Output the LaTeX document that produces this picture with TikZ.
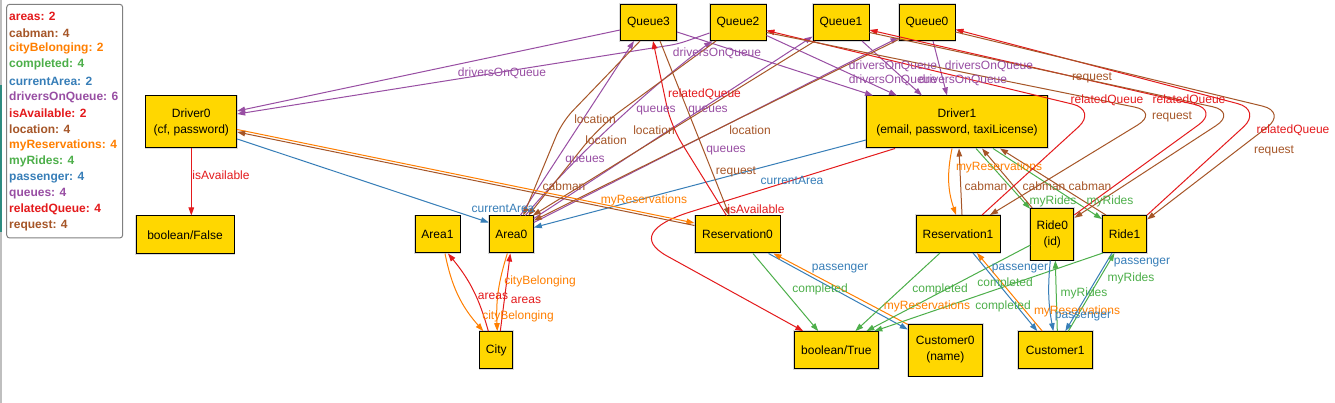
\documentclass[tikz,border=0pt]{standalone}
\usepackage{fontspec}
\setmainfont{Liberation Sans}
\usetikzlibrary{arrows.meta}
\definecolor{cred}{HTML}{E41A1C}
\definecolor{cblue}{HTML}{377EB8}
\definecolor{cgreen}{HTML}{4DAF4A}
\definecolor{cpurple}{HTML}{984EA3}
\definecolor{corange}{HTML}{FF7F00}
\definecolor{cbrown}{HTML}{A65628}
\definecolor{gold}{HTML}{FFD700}
\definecolor{cteal}{HTML}{2E8B80}
\tikzset{
  obj/.style={draw=black, line width=1pt, fill=gold, inner sep=0pt, align=center,
    font=\fontsize{12}{16}\selectfont, preaction={draw=black!15, line width=2.6pt}},
  edgebase/.style={line width=1pt, -{Triangle[length=8pt,width=5.5pt]}},
  ered/.style={edgebase, draw=cred},
  eblue/.style={edgebase, draw=cblue},
  egreen/.style={edgebase, draw=cgreen},
  epurple/.style={edgebase, draw=cpurple},
  eorange/.style={edgebase, draw=corange},
  ebrown/.style={edgebase, draw=cbrown},
  labbase/.style={font=\fontsize{12}{14}\selectfont, inner sep=0pt},
  lred/.style={labbase, text=cred},
  lblue/.style={labbase, text=cblue},
  lgreen/.style={labbase, text=cgreen},
  lpurple/.style={labbase, text=cpurple},
  lorange/.style={labbase, text=corange},
  lbrown/.style={labbase, text=cbrown},
  legitem/.style={font=\bfseries\fontsize{12}{14}\selectfont, inner sep=0pt, anchor=west},
}
\begin{document}
\begin{tikzpicture}[x=1pt,y=-1pt]
\useasboundingbox (0,0) rectangle (1335,403);
\fill[white] (0,0) rectangle (1335,403);
\draw[black!25, line width=1.5pt] (0.75,0) -- (0.75,403);
\draw[cteal, line width=1.5pt] (0.75,85) -- (0.75,232);

% legend
\draw[black!50, line width=1pt, rounded corners=3pt] (6.7,4.3) rectangle (122.7,238);
\node[legitem, text=cred]    (lg1)  at (9,16.7)  {areas: 2};
\node[legitem, text=cbrown]  (lg2)  at (9,32.8)  {cabman: 4};
\node[legitem, text=corange] (lg3)  at (9,48.9)  {cityBelonging: 2};
\node[legitem, text=cgreen]  (lg4)  at (9,64.9)  {completed: 4};
\node[legitem, text=cblue]   (lg5)  at (9,81.0)  {currentArea: 2};
\node[legitem, text=cpurple] (lg6)  at (9,97.1)  {driversOnQueue: 6};
\node[legitem, text=cred]    (lg7)  at (9,113.2) {isAvailable: 2};
\node[legitem, text=cbrown]  (lg8)  at (9,129.3) {location: 4};
\node[legitem, text=corange] (lg9)  at (9,145.3) {myReservations: 4};
\node[legitem, text=cgreen]  (lg10) at (9,161.4) {myRides: 4};
\node[legitem, text=cblue]   (lg11) at (9,177.5) {passenger: 4};
\node[legitem, text=cpurple] (lg12) at (9,193.6) {queues: 4};
\node[legitem, text=cred]    (lg13) at (9,209.7) {relatedQueue: 4};
\node[legitem, text=cbrown]  (lg14) at (9,225.7) {request: 4};

% nodes
\node[obj, minimum width=56pt, minimum height=36pt] (q3) at (648.5,22.5) {Queue3};
\node[obj, minimum width=56pt, minimum height=36pt] (q2) at (738,22.5) {Queue2};
\node[obj, minimum width=56pt, minimum height=36pt] (q1) at (841,22.5) {Queue1};
\node[obj, minimum width=56pt, minimum height=36pt] (q0) at (927,22.5) {Queue0};
\node[obj, minimum width=90.7pt, minimum height=52pt] (d0) at (191.3,122) {Driver0\\(cf, password)};
\node[obj, minimum width=181pt, minimum height=52pt] (d1) at (957,122) {Driver1\\(email, password, taxiLicense)};
\node[obj, minimum width=98pt, minimum height=38pt] (bf) at (185,235) {boolean/False};
\node[obj, minimum width=45pt, minimum height=37pt] (a1) at (437.5,234.5) {Area1};
\node[obj, minimum width=44pt, minimum height=37pt] (a0) at (511.3,234.5) {Area0};
\node[obj, minimum width=85pt, minimum height=37pt] (r0) at (737.5,234.5) {Reservation0};
\node[obj, minimum width=84pt, minimum height=37pt] (r1) at (958,234) {Reservation1};
\node[obj, minimum width=43.3pt, minimum height=51.7pt] (ride0) at (1052.3,234.2) {Ride0\\(id)};
\node[obj, minimum width=44.3pt, minimum height=37pt] (ride1) at (1124.5,234) {Ride1};
\node[obj, minimum width=32.7pt, minimum height=36.7pt] (city) at (496.3,350) {City};
\node[obj, minimum width=84pt, minimum height=36.7pt] (bt) at (836.3,350) {boolean/True};
\node[obj, minimum width=74pt, minimum height=52pt] (c0) at (945.3,350) {Customer0\\(name)};
\node[obj, minimum width=74pt, minimum height=36.7pt] (c1) at (1055.3,350) {Customer1};

% driversOnQueue
\draw[epurple] ([yshift=-7.5pt]q3.west) -- ([yshift=11pt]d0.east);
\draw[epurple, rounded corners=8pt] ([yshift=-10.5pt]q2.west) -- (678,44) -- ([yshift=8pt]d0.east);
\draw[epurple] ([yshift=-9.5pt]q3.east) -- ([xshift=-84pt]d1.north);
\draw[epurple] ([yshift=-13pt]q2.east) -- ([xshift=-60pt]d1.north);
\draw[epurple] ([xshift=21pt]q1.south) -- ([xshift=-35pt]d1.north);
\draw[epurple] ([xshift=6pt]q0.south) -- ([xshift=-10pt]d1.north);

% queues
\draw[epurple] ([xshift=9pt]a0.north) -- ([xshift=-14.5pt]q3.south);
\draw[epurple] ([xshift=14pt]a0.north) .. controls (585,145) and (660,80) .. ([xshift=-26pt]q2.south);
\draw[epurple] ([yshift=-3pt]a0.north east) -- ([yshift=-14pt]q1.west);
\draw[epurple] ([yshift=-7pt]a0.north east) -- ([yshift=-15pt]q0.west);

% location
\draw[ebrown, rounded corners=15pt] ([xshift=-8.5pt]q3.south) -- (562,122) -- ([xshift=12pt]a0.north);
\draw[ebrown, rounded corners=25pt] ([xshift=-22pt]q2.south) -- (600,126) -- ([xshift=17pt]a0.north);
\draw[ebrown] ([xshift=-26pt]q1.south) -- ([xshift=-1pt]a0.north east);
\draw[ebrown] ([yshift=-17pt]q0.west) -- ([yshift=-5pt]a0.north east);

% currentArea
\draw[eblue] ([yshift=-17pt]d0.east) -- ([yshift=-7pt]a0.north west);
\draw[eblue] ([yshift=-18pt]d1.west) -- ([yshift=-12pt]a0.north east);

% isAvailable
\draw[ered] (d0.south) -- ([xshift=6.3pt]bf.north);
\draw[ered] ([xshift=-62pt]d1.south) -- (690,212) .. controls (650,224.5) and (639,240.5) .. (667,256) -- ([xshift=-33pt]bt.north);

% Driver0 <-> Reservation0
\draw[eorange] ([yshift=-7.5pt]d0.east) -- ([yshift=-7.5pt]r0.north west);
\draw[ebrown] ([yshift=-10pt]r0.north west) -- ([yshift=-10pt]d0.east);

% Reservation0 <-> Queue3
\draw[ered, rounded corners=20pt] ([xshift=-11pt]r0.north) -- (671,126) -- ([xshift=4.5pt]q3.south);
\draw[ebrown] ([xshift=11.5pt]q3.south) -- ([xshift=-8pt]r0.north);

% City
\draw[eorange] ([xshift=7.5pt]a1.south) to[bend right=15] ([xshift=-13pt]city.north);
\draw[ered] ([xshift=-8pt]city.north) to[bend right=12] ([xshift=10.5pt]a1.south);
\draw[eorange] ([xshift=-4pt]a0.south) to[bend right=10] ([xshift=1pt]city.north);
\draw[ered] ([xshift=4pt]city.north) -- ([xshift=-1pt]a0.south);

% Reservation0 <-> Customer0
\draw[eblue] ([xshift=31pt]r0.south) -- ([yshift=-6pt]c0.north west);
\draw[eorange] ([yshift=-1pt]c0.north west) -- ([xshift=36pt]r0.south);

% completed
\draw[egreen] ([xshift=15.5pt]r0.south) -- ([xshift=-18pt]bt.north);
\draw[egreen] ([xshift=-18pt]r1.south) -- ([xshift=19pt]bt.north);
\draw[egreen] ([yshift=-11pt]ride0.west) -- ([xshift=30pt]bt.north);
\draw[egreen] ([xshift=1pt]ride1.south west) -- ([xshift=38pt]bt.north);

% Reservation1 <-> Customer1
\draw[eblue] ([xshift=15pt]r1.south) -- ([xshift=-18pt]c1.north);
\draw[eorange] ([xshift=-13pt]c1.north) -- ([xshift=19pt]r1.south);

% Ride0 <-> Customer1
\draw[eblue] ([xshift=-2pt]ride0.south) to[bend right=8] ([xshift=-2pt]c1.north);
\draw[egreen] ([xshift=2pt]c1.north) -- ([xshift=3pt]ride0.south);

% Ride1 <-> Customer1
\draw[eblue] ([xshift=-12.5pt]ride1.south) -- ([xshift=10pt]c1.north);
\draw[egreen] ([xshift=13pt]c1.north) -- ([xshift=-10pt]ride1.south);

% Driver1 <-> Reservation1
\draw[eorange] ([xshift=-5pt]d1.south) to[bend right=15] ([xshift=-2pt]r1.north);
\draw[ebrown] ([xshift=4pt]r1.north) -- ([xshift=2pt]d1.south);

% Driver1 <-> Ride0
\draw[egreen] ([xshift=19pt]d1.south) -- ([yshift=-1pt]ride0.north west);
\draw[ebrown] ([xshift=2pt]ride0.north west) -- ([xshift=25pt]d1.south);

% Driver1 <-> Ride1
\draw[egreen] ([xshift=36pt]d1.south) -- ([yshift=-4pt]ride1.north west);
\draw[ebrown] ([xshift=4pt]ride1.north west) -- ([xshift=43pt]d1.south);

% relatedQueue / request on the right
\draw[ered, rounded corners=25pt] ([xshift=24pt]r1.north) -- (1097,110) -- ([yshift=-8pt]q2.east);
\draw[ebrown, rounded corners=25pt] ([yshift=-10pt]q2.east) -- (1159,112) -- ([xshift=32pt]r1.north);
\draw[ered, rounded corners=25pt] ([yshift=-7pt]ride0.north east) -- (1219,110) -- ([yshift=-7.5pt]q1.east);
\draw[ebrown, rounded corners=25pt] ([yshift=-10pt]q1.east) -- (1237,112) -- ([yshift=-10pt]ride0.north east);
\draw[ered, rounded corners=25pt] (ride1.north east) -- (1262,110) -- ([yshift=-7pt]q0.east);
\draw[ebrown, rounded corners=25pt] ([yshift=-9.5pt]q0.east) -- (1287,112) -- ([yshift=-4.5pt]ride1.north east);

% labels
\node[lpurple] (t1) at (502,73) {driversOnQueue};
\node[lpurple] (t2) at (717,53) {driversOnQueue};
\node[lpurple] (t3) at (893,66) {driversOnQueue};
\node[lpurple] (t4) at (989,66) {driversOnQueue};
\node[lpurple] (t5) at (893,80) {driversOnQueue};
\node[lpurple] (t6) at (963,80) {driversOnQueue};
\node[lpurple] (t7) at (585,160.7) {queues};
\node[lpurple] (t8) at (656,111) {queues};
\node[lpurple] (t9) at (708,111) {queues};
\node[lpurple] (t10) at (726,150.7) {queues};
\node[lbrown] (t11) at (595,119) {location};
\node[lbrown] (t12) at (606,140.7) {location};
\node[lbrown] (t13) at (654,130.7) {location};
\node[lbrown] (t14) at (750,130.7) {location};
\node[lbrown] (t15) at (564,186.7) {cabman};
\node[lbrown] (t16) at (986,186.7) {cabman};
\node[lbrown] (t17) at (1044,186.7) {cabman};
\node[lbrown] (t18) at (1090,186.7) {cabman};
\node[lblue] (t19) at (503,208) {currentArea};
\node[lblue] (t20) at (792,180) {currentArea};
\node[lred] (t21) at (221,175) {isAvailable};
\node[lred] (t22) at (756,209) {isAvailable};
\node[lorange] (t23) at (644,200) {myReservations};
\node[lorange] (t24) at (999,167.7) {myReservations};
\node[lorange] (t25) at (927,306) {myReservations};
\node[lorange] (t26) at (1077,311) {myReservations};
\node[lred] (t27) at (704.5,94) {relatedQueue};
\node[lred] (t28) at (1107,100) {relatedQueue};
\node[lred] (t29) at (1189,100) {relatedQueue};
\node[lred] (t30) at (1293,130.7) {relatedQueue};
\node[lbrown] (t31) at (736,172) {request};
\node[lbrown] (t32) at (1092,77.7) {request};
\node[lbrown] (t33) at (1172,116.7) {request};
\node[lbrown] (t34) at (1274,150.7) {request};
\node[lblue] (t35) at (840,269) {passenger};
\node[lblue] (t36) at (1020,269) {passenger};
\node[lblue] (t37) at (1083,316.7) {passenger};
\node[lblue] (t38) at (1142,263) {passenger};
\node[lgreen] (t39) at (820,289) {completed};
\node[lgreen] (t40) at (940,289) {completed};
\node[lgreen] (t41) at (1005,283.3) {completed};
\node[lgreen] (t42) at (1003,306.7) {completed};
\node[lgreen] (t43) at (1053,201.7) {myRides};
\node[lgreen] (t44) at (1110,201.7) {myRides};
\node[lgreen] (t45) at (1084,293) {myRides};
\node[lgreen] (t46) at (1131,278) {myRides};
\node[lorange] (t47) at (540,281) {cityBelonging};
\node[lorange] (t48) at (518,316) {cityBelonging};
\node[lred] (t49) at (493,296) {areas};
\node[lred] (t50) at (526,300.7) {areas};
\end{tikzpicture}
\end{document}
